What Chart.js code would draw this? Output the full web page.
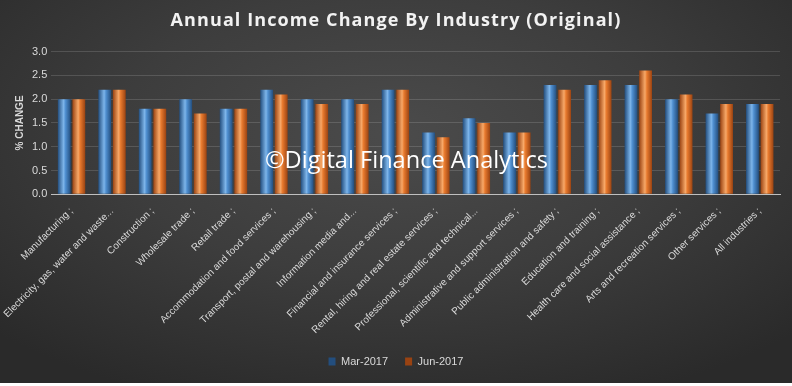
<!DOCTYPE html>
<html>
<head>
<meta charset="utf-8">
<script src="https://cdn.jsdelivr.net/npm/chart.js@4"></script>
<style>
  html, body { margin: 0; padding: 0; background: #fff; }
  #wrap {
    width: 792px; height: 383px; position: relative;
    background: radial-gradient(ellipse 70% 75% at 50% 35%, #4b4b4b 0%, #3d3d3d 50%, #2a2a2a 100%);
  }
</style>
</head>
<body>
<div id="wrap"><canvas id="income-chart" width="792" height="383"></canvas></div>
<script>
const industries = [
  "Manufacturing ;",
  "Electricity, gas, water and waste...",
  "Construction ;",
  "Wholesale trade ;",
  "Retail trade ;",
  "Accommodation and food services ;",
  "Transport, postal and warehousing ;",
  "Information media and...",
  "Financial and insurance services ;",
  "Rental, hiring and real estate services ;",
  "Professional, scientific and technical...",
  "Administrative and support services ;",
  "Public administration and safety ;",
  "Education and training ;",
  "Health care and social assistance ;",
  "Arts and recreation services ;",
  "Other services ;",
  "All industries ;",
];
const mar2017 = [2.0, 2.2, 1.8, 2.0, 1.8, 2.2, 2.0, 2.0, 2.2, 1.3, 1.6, 1.3, 2.3, 2.3, 2.3, 2.0, 1.7, 1.9];
const jun2017 = [2.0, 2.2, 1.8, 1.7, 1.8, 2.1, 1.9, 1.9, 2.2, 1.2, 1.5, 1.3, 2.2, 2.4, 2.6, 2.1, 1.9, 1.9];
const yTicks = [0.0, 0.5, 1.0, 1.5, 2.0, 2.5, 3.0];
const titleText = "Annual Income Change By Industry (Original)";

const CAT_PCT = 0.72;
const BAR_PCT = 0.88;

// cylinder look: horizontal gradient across each bar
function cylinder(dark, mid, light) {
  return (ctx) => {
    const chart = ctx.chart;
    const x = chart.scales && chart.scales.x;
    if (!x || !chart.chartArea || ctx.dataIndex === undefined) return mid;
    const catW = (chart.chartArea.right - chart.chartArea.left) / industries.length;
    const slot = catW * CAT_PCT / 2;
    const c = x.getPixelForValue(ctx.dataIndex) + (ctx.datasetIndex - 0.5) * slot;
    const w = slot * BAR_PCT;
    const g = chart.ctx.createLinearGradient(c - w / 2, 0, c + w / 2, 0);
    g.addColorStop(0, dark);
    g.addColorStop(0.45, light);
    g.addColorStop(0.6, mid);
    g.addColorStop(1, dark);
    return g;
  };
}

// title drawn with letter spacing (built-in title only reserves the space)
const spacedTitle = {
  id: "spacedTitle",
  afterDraw(chart) {
    const ctx = chart.ctx;
    ctx.save();
    ctx.font = "bold 18px 'Open Sans', sans-serif";
    ctx.letterSpacing = "1.1px";
    ctx.fillStyle = "#f2f2f2";
    ctx.textAlign = "center";
    ctx.textBaseline = "middle";
    ctx.fillText(titleText, chart.width / 2, 21);
    ctx.restore();
  },
};

const watermark = {
  id: "watermark",
  afterDatasetsDraw(chart) {
    const ctx = chart.ctx;
    ctx.save();
    ctx.font = "22px 'Open Sans'";
    const txt = "©Digital Finance Analytics";
    const w = ctx.measureText(txt).width;
    const size = 22 * 283 / w;
    ctx.font = size + "px 'Open Sans'";
    ctx.fillStyle = "#ffffff";
    ctx.textBaseline = "alphabetic";
    ctx.fillText(txt, 265, 168);
    ctx.restore();
  },
};

Chart.defaults.color = "#d9d9d9";
Chart.defaults.font.family = "'Liberation Sans', Arial, sans-serif";

new Chart(document.getElementById("income-chart"), {
  type: "bar",
  data: {
    labels: industries,
    datasets: [
      {
        label: "Mar-2017",
        data: mar2017,
        backgroundColor: cylinder("#234e7e", "#4f8fd0", "#7db5ea"),
        categoryPercentage: CAT_PCT,
        barPercentage: BAR_PCT,
      },
      {
        label: "Jun-2017",
        data: jun2017,
        backgroundColor: cylinder("#9a4312", "#e87a2e", "#f7a868"),
        categoryPercentage: CAT_PCT,
        barPercentage: BAR_PCT,
      },
    ],
  },
  options: {
    responsive: false,
    animation: false,
    layout: { padding: { left: 12, right: 12, top: 4, bottom: 6 } },
    plugins: {
      title: {
        display: true,
        text: titleText,
        color: "rgba(0,0,0,0)",
        font: { size: 18, weight: "bold", family: "'Open Sans', sans-serif" },
        padding: { top: 6, bottom: 20 },
      },
      legend: {
        position: "bottom",
        labels: {
          boxWidth: 7,
          boxHeight: 8,
          padding: 17,
          font: { size: 11 },
          color: "#d9d9d9",
        },
      },
      tooltip: { enabled: false },
    },
    scales: {
      x: {
        grid: { display: false },
        border: { color: "#bfbfbf", width: 1 },
        ticks: {
          minRotation: 45,
          maxRotation: 45,
          autoSkip: false,
          font: { size: 10 },
          color: "#d9d9d9",
        },
      },
      y: {
        min: 0,
        max: 3,
        afterBuildTicks: (axis) => {
          axis.ticks = yTicks.map((v) => ({ value: v }));
        },
        grid: { color: "rgba(255,255,255,0.14)", drawTicks: false },
        border: { display: false },
        ticks: {
          padding: 4,
          font: { size: 11 },
          color: "#d9d9d9",
          callback: (v) => Number(v).toFixed(1),
        },
        title: {
          display: true,
          text: "% CHANGE",
          font: { size: 10, weight: "bold" },
          color: "#d9d9d9",
          padding: { top: 2, bottom: 2 },
        },
      },
    },
  },
  plugins: [watermark, spacedTitle],
});
</script>
</body>
</html>
